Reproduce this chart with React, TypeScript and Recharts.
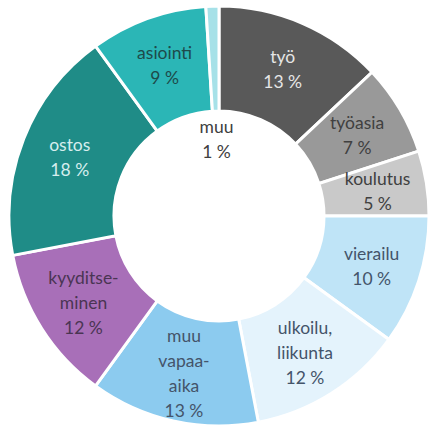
import React from "react";
import { PieChart, Pie, Cell } from "recharts";

const categories = [
  "työ",
  "työasia",
  "koulutus",
  "vierailu",
  "ulkoilu,\nliikunta",
  "muu\nvapaa-\naika",
  "kyyditse-\nminen",
  "ostos",
  "asiointi",
  "muu",
];
const values = [13, 7, 5, 10, 12, 13, 12, 18, 9, 1];
const colors = [
  "#595959",
  "#999999",
  "#c9c9c9",
  "#bfe4f7",
  "#e4f3fc",
  "#8ccbef",
  "#a86fb8",
  "#1f8c87",
  "#2bb6b6",
  "#a6e1e8",
];
const textColors = [
  "#e6e6e6",
  "#404040",
  "#404040",
  "#44546a",
  "#44546a",
  "#44546a",
  "#4a3553",
  "#d6eeee",
  "#1e4a4a",
  "#404040",
];

const data = categories.map((c, i) => ({ name: c, value: values[i], idx: i }));

const RAD = Math.PI / 180;

const renderLabel = (props: any) => {
  const { cx, cy, midAngle, innerRadius, outerRadius, payload, index } = props;
  const i = payload?.idx ?? index;
  const v = values[i];
  const r = v < 3 ? innerRadius * 0.74 : (innerRadius + outerRadius) / 2 + 3;
  const x = cx + r * Math.cos(-midAngle * RAD);
  const y = cy + r * Math.sin(-midAngle * RAD);
  const lines = [...categories[i].split("\n"), `${v} %`];
  const lh = 25;
  const start = y - ((lines.length - 1) * lh) / 2;
  return (
    <text
      key={`l${i}`}
      x={x}
      y={start}
      fill={textColors[i]}
      textAnchor="middle"
      dominantBaseline="central"
      fontFamily="Lato, 'Open Sans', sans-serif"
      fontSize={17.5}
    >
      {lines.map((l, k) => (
        <tspan key={k} x={x} y={start + k * lh}>
          {l}
        </tspan>
      ))}
    </text>
  );
};

export default function App() {
  return (
    <div style={{ position: "absolute", left: 0, top: 0, width: 431, height: 427, background: "#fff" }}>
      <PieChart width={431} height={427} margin={{ top: 0, right: 0, bottom: 0, left: 0 }}>
        <Pie
          data={data}
          dataKey="value"
          cx={219}
          cy={216}
          innerRadius={105}
          outerRadius={210}
          startAngle={90}
          endAngle={-270}
          stroke="#ffffff"
          strokeWidth={3}
          label={renderLabel}
          labelLine={false}
          isAnimationActive={false}
        >
          {data.map((d, i) => (
            <Cell key={i} fill={colors[i]} />
          ))}
        </Pie>
      </PieChart>
    </div>
  );
}
